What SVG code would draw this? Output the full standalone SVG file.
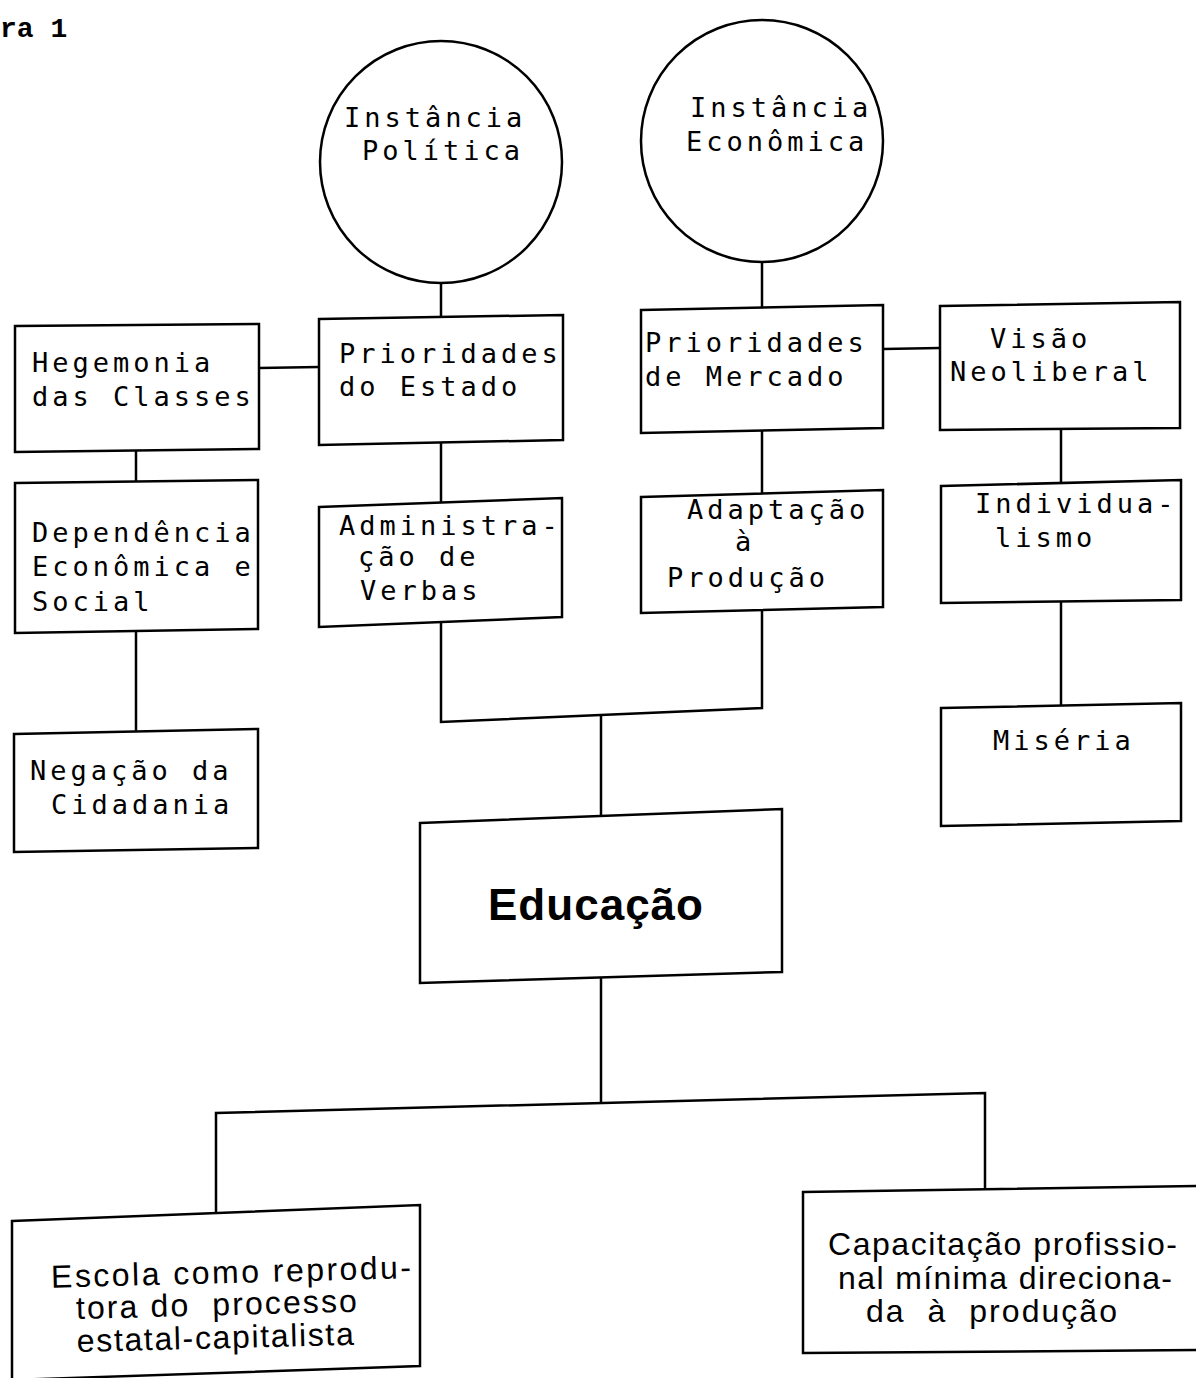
<svg xmlns="http://www.w3.org/2000/svg" width="1196" height="1378" viewBox="0 0 1196 1378">
<style>
.b{fill:#fff;stroke:#000;stroke-width:2.5;stroke-linejoin:miter}
.c{fill:none;stroke:#000;stroke-width:2.5}
.m{font-family:"DejaVu Sans Mono","Liberation Mono",monospace;font-size:27px;letter-spacing:4px;fill:#000}
.s{font-family:"Liberation Sans",Arial,sans-serif;font-size:32px;fill:#000}
</style>
<rect width="1196" height="1378" fill="#fff"/>
<text x="0" y="37" font-family="'Liberation Mono',monospace" font-weight="bold" font-size="28">ra 1</text>
<g id="connectors">
<line class="c" x1="441" y1="283" x2="441" y2="318"/>
<line class="c" x1="762" y1="262" x2="762" y2="308"/>
<line class="c" x1="259" y1="368" x2="319" y2="367"/>
<line class="c" x1="883" y1="349" x2="940" y2="348"/>
<line class="c" x1="136" y1="451" x2="136" y2="482"/>
<line class="c" x1="441" y1="442" x2="441" y2="502"/>
<line class="c" x1="762" y1="431" x2="762" y2="493"/>
<line class="c" x1="1061" y1="429" x2="1061" y2="483"/>
<line class="c" x1="136" y1="631" x2="136" y2="731"/>
<line class="c" x1="1061" y1="602" x2="1061" y2="706"/>
<polyline class="c" points="441,622 441,722 762,708 762,610"/>
<line class="c" x1="601" y1="715" x2="601" y2="816"/>
<line class="c" x1="601" y1="977" x2="601" y2="1103"/>
<polyline class="c" points="216,1213 216,1113 985,1093 985,1189"/>
</g>
<g id="n-politica">
<ellipse class="b" cx="441" cy="162" rx="121" ry="121"/>
<text class="m" x="344" y="127">Instância</text>
<text class="m" x="362" y="160">Política</text>
</g>
<g id="n-economica">
<ellipse class="b" cx="762" cy="141" rx="121" ry="121"/>
<text class="m" x="690" y="117">Instância</text>
<text class="m" x="686" y="151">Econômica</text>
</g>
<g id="n-hegemonia">
<polygon class="b" points="15,326 259,324 259,449 15,452"/>
<text class="m" x="32" y="372">Hegemonia</text>
<text class="m" x="32" y="406">das Classes</text>
</g>
<g id="n-prior-estado">
<polygon class="b" points="319,319 563,315 563,440 319,445"/>
<text class="m" x="339" y="363">Prioridades</text>
<text class="m" x="339" y="396">do Estado</text>
</g>
<g id="n-prior-mercado">
<polygon class="b" points="641,310 883,305 883,428 641,433"/>
<text class="m" x="645" y="352">Prioridades</text>
<text class="m" x="645" y="386">de Mercado</text>
</g>
<g id="n-visao">
<polygon class="b" points="940,306 1180,302 1180,428 940,430"/>
<text class="m" x="990" y="348">Visão</text>
<text class="m" x="950" y="381">Neoliberal</text>
</g>
<g id="n-dependencia">
<polygon class="b" points="15,483 258,480 258,629 15,633"/>
<text class="m" x="32" y="542">Dependência</text>
<text class="m" x="32" y="576">Econômica e</text>
<text class="m" x="32" y="611">Social</text>
</g>
<g id="n-administracao">
<polygon class="b" points="319,507 562,498 562,617 319,627"/>
<text class="m" x="339" y="535">Administra-</text>
<text class="m" x="358" y="566">ção de</text>
<text class="m" x="360" y="600">Verbas</text>
</g>
<g id="n-adaptacao">
<polygon class="b" points="641,497 883,490 883,607 641,613"/>
<text class="m" x="687" y="519">Adaptação</text>
<text class="m" x="735" y="551">à</text>
<text class="m" x="667" y="587">Produção</text>
</g>
<g id="n-individualismo">
<polygon class="b" points="941,486 1181,480 1181,600 941,603"/>
<text class="m" x="975" y="513">Individua-</text>
<text class="m" x="995" y="547">lismo</text>
</g>
<g id="n-negacao">
<polygon class="b" points="14,734 258,729 258,848 14,852"/>
<text class="m" x="30" y="780">Negação da</text>
<text class="m" x="51" y="814">Cidadania</text>
</g>
<g id="n-miseria">
<polygon class="b" points="941,708 1181,703 1181,821 941,826"/>
<text class="m" x="993" y="750">Miséria</text>
</g>
<g id="n-educacao">
<polygon class="b" points="420,823 782,809 782,972 420,983"/>
<text x="488" y="920" font-family="'Liberation Sans',Arial,sans-serif" font-weight="bold" font-size="44" textLength="215">Educação</text>
</g>
<g id="n-escola">
<polygon class="b" points="12,1221 420,1205 420,1366 12,1380"/>
<g transform="rotate(-1.5 230 1310)">
<text class="s" x="52" y="1283" textLength="360">Escola como reprodu-</text>
<text class="s" x="76" y="1315" textLength="281" xml:space="preserve">tora do  processo</text>
<text class="s" x="76" y="1348" textLength="277">estatal-capitalista</text>
</g>
</g>
<g id="n-capacitacao">
<polygon class="b" points="803,1192 1200,1186 1200,1350 803,1353"/>
<text class="s" x="828" y="1255" textLength="349">Capacitação profissio-</text>
<text class="s" x="838" y="1289" textLength="334">nal mínima direciona-</text>
<text class="s" x="866" y="1322" textLength="251" xml:space="preserve">da  à  produção</text>
</g>
</svg>
